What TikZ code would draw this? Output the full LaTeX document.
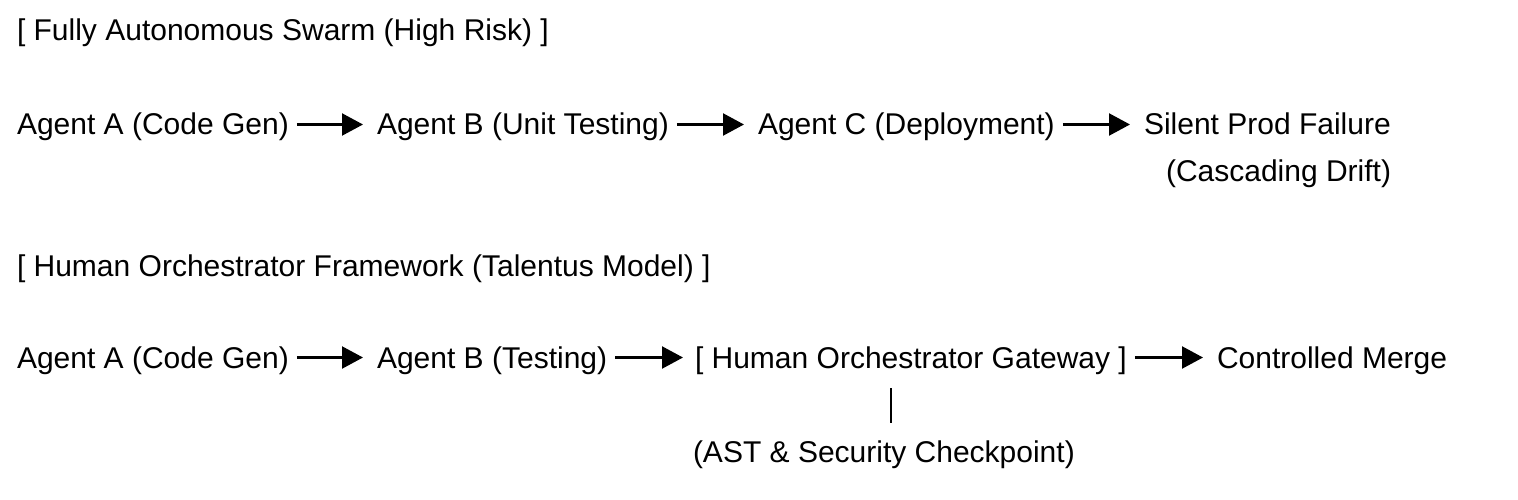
\documentclass[tikz,border=0pt]{standalone}
\usepackage{fontspec}
\setmainfont{Liberation Sans}
\usetikzlibrary{arrows.meta}
\tikzset{
  lbl/.style={anchor=base west, inner sep=0pt, outer sep=0pt, font=\fontsize{30pt}{36pt}\selectfont, text=black},
  arr/.style={line width=2.2pt, -{Triangle[length=21pt,width=22pt]}},
  barline/.style={line width=2.2pt}
}
\begin{document}
\begin{tikzpicture}[x=1pt,y=1pt]
\useasboundingbox (0,0) rectangle (1518,-500);
% section 1
\node[lbl] (t1) at (17,-41) {[ Fully Autonomous Swarm (High Risk) ]};
\node[lbl] (a1) at (17,-135) {Agent A (Code Gen)};
\node[lbl] (b1) at (377,-135) {Agent B (Unit Testing)};
\node[lbl] (c1) at (758,-135) {Agent C (Deployment)};
\node[lbl] (f1) at (1144,-135) {Silent Prod Failure};
\node[lbl] (d1) at (1166,-182) {(Cascading Drift)};
\draw[arr] ([shift={(8pt,10.5pt)}]a1.base east) -- ([shift={(-14pt,10.5pt)}]b1.base west);
\draw[arr] ([shift={(8pt,10.5pt)}]b1.base east) -- ([shift={(-14pt,10.5pt)}]c1.base west);
\draw[arr] ([shift={(8pt,10.5pt)}]c1.base east) -- ([shift={(-14pt,10.5pt)}]f1.base west);
% section 2
\node[lbl] (t2) at (17,-276) {[ Human Orchestrator Framework (Talentus Model) ]};
\node[lbl] (a2) at (17,-368) {Agent A (Code Gen)};
\node[lbl] (b2) at (377,-368) {Agent B (Testing)};
\node[lbl] (g2) at (695,-368) {[ Human Orchestrator Gateway ]};
\node[lbl] (m2) at (1217,-368) {Controlled Merge};
\node[lbl] (s2) at (693,-462) {(AST \& Security Checkpoint)};
\draw[arr] ([shift={(8pt,10.5pt)}]a2.base east) -- ([shift={(-14pt,10.5pt)}]b2.base west);
\draw[arr] ([shift={(8pt,10.5pt)}]b2.base east) -- ([shift={(-12pt,10.5pt)}]g2.base west);
\draw[arr] ([shift={(8pt,10.5pt)}]g2.base east) -- ([shift={(-14pt,10.5pt)}]m2.base west);
\coordinate (bx) at (891,0);
\draw[barline] ([yshift=-20pt]g2.base -| bx) -- ([yshift=39pt]s2.base -| bx);
\end{tikzpicture}
\end{document}
